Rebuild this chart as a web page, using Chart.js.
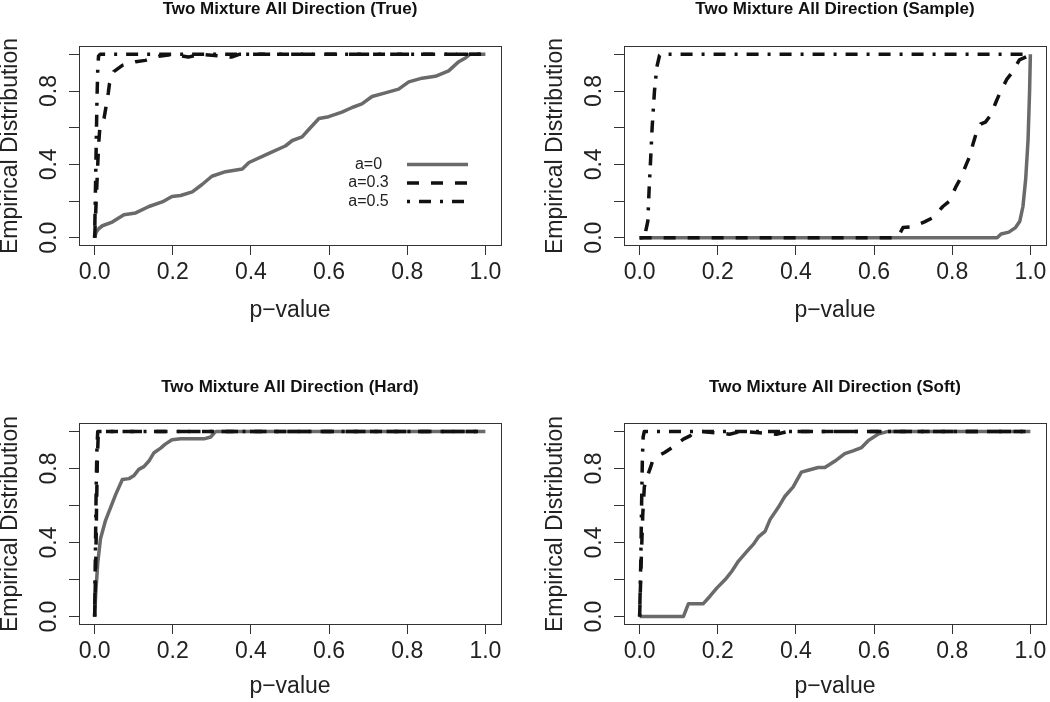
<!DOCTYPE html>
<html>
<head>
<meta charset="utf-8">
<script src="https://cdn.jsdelivr.net/npm/chart.js@4.4.0/dist/chart.umd.min.js"></script>
<style>
html,body{margin:0;padding:0;background:#fff;overflow:hidden;width:1050px;height:702px;position:relative}
canvas{position:absolute}
</style>
</head>
<body>
<canvas id="c1" width="545" height="340" style="left:-20px;top:0px"></canvas>
<canvas id="c2" width="545" height="340" style="left:525px;top:0px"></canvas>
<canvas id="c3" width="545" height="324" style="left:-20px;top:378px"></canvas>
<canvas id="c4" width="545" height="324" style="left:525px;top:378px"></canvas>
<script>
// ---------- axis ticks and labels ----------
const xTicks = [0, 0.2, 0.4, 0.6, 0.8, 1.0];
const xTickLabels = ['0.0', '0.2', '0.4', '0.6', '0.8', '1.0'];
const yTicks = [0, 0.2, 0.4, 0.6, 0.8, 1.0];
const yTickLabels = ['0.0', '', '0.4', '', '0.8', ''];
const seriesNames = ['a=0', 'a=0.3', 'a=0.5'];
const panelTitles = [
  'Two Mixture All Direction (True)',
  'Two Mixture All Direction (Sample)',
  'Two Mixture All Direction (Hard)',
  'Two Mixture All Direction (Soft)'
];
const xAxisTitle = 'p\u2212value';
const yAxisTitle = 'Empirical Distribution';

// ---------- Panel 1: True ----------
const trueA0P = [0, 0.004, 0.011, 0.02, 0.045, 0.075, 0.105, 0.139, 0.173, 0.198, 0.22, 0.25, 0.275, 0.30, 0.335, 0.378, 0.395, 0.446, 0.488, 0.506, 0.531, 0.548, 0.574, 0.599, 0.633, 0.659, 0.684, 0.71, 0.744, 0.778, 0.804, 0.838, 0.872, 0.906, 0.932, 0.949, 0.96, 1.0];
const trueA0E = [0, 0.03, 0.05, 0.065, 0.085, 0.125, 0.135, 0.17, 0.195, 0.225, 0.23, 0.25, 0.29, 0.335, 0.36, 0.375, 0.41, 0.46, 0.50, 0.53, 0.55, 0.59, 0.65, 0.66, 0.685, 0.71, 0.73, 0.77, 0.79, 0.81, 0.85, 0.87, 0.88, 0.91, 0.96, 0.98, 1.0, 1.0];
const trueA3P = [0, 0.003, 0.006, 0.009, 0.011, 0.013, 0.024, 0.028, 0.035, 0.038, 0.049, 0.071, 0.105, 0.13, 0.164, 0.2, 0.24, 0.27, 0.35, 0.37, 1.0];
const trueA3E = [0, 0.15, 0.3, 0.45, 0.53, 0.59, 0.65, 0.70, 0.79, 0.84, 0.906, 0.94, 0.96, 0.967, 0.99, 1.0, 0.985, 1.0, 0.985, 1.0, 1.0];
const trueA5P = [0, 0.002, 0.004, 0.006, 0.008, 0.010, 0.014, 1.0];
const trueA5E = [0, 0.25, 0.5, 0.75, 0.92, 0.99, 1.0, 1.0];

// ---------- Panel 2: Sample ----------
const sampA0P = [0, 0.915, 0.925, 0.945, 0.962, 0.973, 0.981, 0.988, 0.994, 0.998, 1.0];
const sampA0E = [0, 0, 0.02, 0.03, 0.055, 0.09, 0.17, 0.32, 0.53, 0.8, 1.0];
const sampA3P = [0, 0.66, 0.674, 0.70, 0.729, 0.751, 0.776, 0.793, 0.81, 0.823, 0.836, 0.846, 0.853, 0.863, 0.873, 0.885, 0.899, 0.912, 0.92, 0.94, 0.951, 0.972, 0.993, 1.0];
const sampA3E = [0, 0, 0.055, 0.06, 0.086, 0.11, 0.17, 0.20, 0.28, 0.33, 0.40, 0.45, 0.51, 0.58, 0.62, 0.63, 0.67, 0.74, 0.78, 0.865, 0.895, 0.97, 0.99, 1.0];
const sampA5P = [0, 0.014, 0.016, 0.021, 0.024, 0.028, 0.032, 0.038, 0.044, 0.051, 0.055, 1.0];
const sampA5E = [0, 0, 0.04, 0.09, 0.25, 0.42, 0.6, 0.8, 0.93, 0.995, 1.0, 1.0];

// ---------- Panel 3: Hard ----------
const hardA0P = [0, 0.003, 0.008, 0.015, 0.028, 0.041, 0.054, 0.071, 0.088, 0.10, 0.113, 0.126, 0.139, 0.152, 0.169, 0.18, 0.198, 0.22, 0.28, 0.297, 0.31, 1.0];
const hardA0E = [0, 0.13, 0.29, 0.42, 0.52, 0.59, 0.66, 0.74, 0.745, 0.76, 0.795, 0.81, 0.84, 0.885, 0.91, 0.93, 0.955, 0.96, 0.96, 0.97, 1.0, 1.0];
const hardA3P = [0, 0.003, 0.005, 0.007, 0.009, 0.012, 1.0];
const hardA3E = [0, 0.3, 0.6, 0.85, 0.97, 1.0, 1.0];
const hardA5P = [0, 0.002, 0.004, 0.006, 0.008, 1.0];
const hardA5E = [0, 0.35, 0.7, 0.92, 1.0, 1.0];

// ---------- Panel 4: Soft ----------
const softA0P = [0, 0.112, 0.125, 0.163, 0.18, 0.198, 0.219, 0.236, 0.253, 0.278, 0.291, 0.304, 0.321, 0.334, 0.355, 0.372, 0.393, 0.414, 0.431, 0.457, 0.474, 0.5, 0.525, 0.546, 0.568, 0.585, 0.61, 0.636, 1.0];
const softA0E = [0, 0, 0.07, 0.07, 0.11, 0.155, 0.2, 0.245, 0.30, 0.36, 0.39, 0.43, 0.46, 0.525, 0.59, 0.65, 0.70, 0.78, 0.79, 0.805, 0.805, 0.84, 0.88, 0.895, 0.913, 0.95, 0.985, 1.0, 1.0];
const softA3P = [0, 0.004, 0.008, 0.012, 0.02, 0.027, 0.033, 0.05, 0.064, 0.083, 0.10, 0.112, 0.129, 0.14, 0.16, 0.23, 0.26, 0.35, 0.38, 1.0];
const softA3E = [0, 0.3, 0.55, 0.7, 0.76, 0.80, 0.84, 0.87, 0.886, 0.913, 0.94, 0.958, 0.976, 0.995, 1.0, 0.985, 1.0, 0.985, 1.0, 1.0];
const softA5P = [0, 0.003, 0.005, 0.007, 0.009, 0.012, 1.0];
const softA5E = [0, 0.3, 0.6, 0.85, 0.97, 1.0, 1.0];

// ---------- styles ----------
const styleA0 = {color: '#6a6a6a', width: 3.5, dash: []};
const styleA3 = {color: '#111111', width: 3.5, dash: [12, 12]};
const styleA5 = {color: '#111111', width: 3.5, dash: [3, 9, 12, 9]};
const seriesStyles = [styleA0, styleA3, styleA5];

Chart.defaults.font.family = '"Liberation Sans", Arial, Helvetica, sans-serif';
Chart.defaults.color = '#222';

const rBox = {
  id: 'rBox',
  afterDatasetsDraw(chart) {
    const a = chart.chartArea, ctx = chart.ctx;
    const l = Math.round(a.left) + 0.5, r = Math.round(a.right) + 0.5;
    const t = Math.round(a.top) - 0.5, b = Math.round(a.bottom) + 0.5;
    ctx.save();
    ctx.strokeStyle = '#333';
    ctx.lineWidth = 1;
    ctx.strokeRect(l, t, r - l, b - t);
    ctx.restore();
  }
};

const legendPlace = {
  id: 'legendPlace',
  afterLayout(chart) {
    const lg = chart.legend;
    if (!lg || !lg.options.display) return;
    const a = chart.chartArea;
    const L = a.left + 259, w = 132.5, T = a.top + 107, h = 80;
    lg.left = L; lg.right = L + w; lg.width = w;
    lg.top = T; lg.bottom = T + h; lg.height = h;
  }
};

function toPts(px, py) { return px.map((x, i) => ({x: x, y: py[i]})); }

function makePanel(id, title, series, cfg) {
  const W = 545, H = cfg.H, T = cfg.T, B = cfg.B;
  const datasets = series.map((s, i) => ({
    label: seriesNames[i],
    data: toPts(s[0], s[1]),
    borderColor: seriesStyles[i].color,
    backgroundColor: seriesStyles[i].color,
    borderWidth: seriesStyles[i].width,
    borderDash: seriesStyles[i].dash,
    borderCapStyle: 'butt',
    borderJoinStyle: 'round',
    pointRadius: 0,
    tension: 0,
    fill: false,
    order: 3 - i
  }));
  const gridOpt = {display: true, drawOnChartArea: false, drawTicks: true, tickLength: 10, color: '#333', lineWidth: 1};
  return new Chart(document.getElementById(id), {
    type: 'line',
    data: {datasets: datasets},
    options: {
      responsive: false,
      animation: false,
      devicePixelRatio: 1,
      layout: {padding: {left: 0, right: W - 521, top: 0, bottom: 0}},
      plugins: {
        tooltip: {enabled: false},
        title: {display: false},
        legend: {
          display: cfg.legend,
          position: 'chartArea',
          align: 'start',
          rtl: true,
          textDirection: 'ltr',
          labels: {
            usePointStyle: true,
            pointStyle: 'line',
            pointStyleWidth: 61,
            boxHeight: 16,
            padding: 2.5,
            font: {size: 16},
            color: '#222',
            textAlign: 'center',
            generateLabels: (chart) => chart.data.datasets.map((ds, i) => ({
              text: ds.label,
              fillStyle: ds.borderColor,
              strokeStyle: ds.borderColor,
              lineWidth: ds.borderWidth,
              lineDash: ds.borderDash,
              lineCap: 'butt',
              pointStyle: 'line',
              fontColor: '#222',
              textAlign: 'center',
              hidden: false,
              datasetIndex: i
            }))
          }
        }
      },
      scales: {
        x: {
          type: 'linear', position: 'bottom', min: -0.04, max: 1.04,
          afterBuildTicks: (s) => { s.ticks = xTicks.map(v => ({value: v})); },
          afterFit: (s) => { s.height = H - B; },
          grid: gridOpt,
          border: {display: false},
          ticks: {font: {size: 23}, color: '#222', padding: 4, minRotation: 0, maxRotation: 0, autoSkip: false,
                  callback: (v, i) => xTickLabels[i]},
          title: {display: true, text: xAxisTitle, font: {size: 23}, color: '#222', padding: {top: 0, bottom: cfg.xTitlePad}}
        },
        xTop: {
          type: 'linear', axis: 'x', position: 'top', min: -0.04, max: 1.04,
          afterFit: (s) => { s.height = T; },
          grid: {display: false}, border: {display: false}, ticks: {display: false},
          title: {display: true, text: title, font: {size: 17, weight: 'bold', lineHeight: 0.8}, color: '#111', padding: {top: 3, bottom: 0}}
        },
        y: {
          type: 'linear', position: 'left', min: -0.04, max: 1.04,
          afterBuildTicks: (s) => { s.ticks = yTicks.map(v => ({value: v})); },
          afterFit: (s) => { s.width = 99; },
          grid: gridOpt,
          border: {display: false},
          ticks: {font: {size: 23}, color: '#222', padding: 3, minRotation: 90, maxRotation: 90, crossAlign: 'center', autoSkip: false,
                  callback: (v, i) => yTickLabels[i]},
          title: {display: true, text: yAxisTitle, font: {size: 23}, color: '#222', padding: {top: 17, bottom: 0}}
        }
      }
    },
    plugins: [rBox, legendPlace]
  });
}

const topRow = {H: 340, T: 47, B: 245, xTitlePad: 16, legend: false};
const botRow = {H: 324, T: 46, B: 246, xTitlePad: 2, legend: false};

makePanel('c1', panelTitles[0], [[trueA0P, trueA0E], [trueA3P, trueA3E], [trueA5P, trueA5E]], Object.assign({}, topRow, {legend: true}));
makePanel('c2', panelTitles[1], [[sampA0P, sampA0E], [sampA3P, sampA3E], [sampA5P, sampA5E]], topRow);
makePanel('c3', panelTitles[2], [[hardA0P, hardA0E], [hardA3P, hardA3E], [hardA5P, hardA5E]], botRow);
makePanel('c4', panelTitles[3], [[softA0P, softA0E], [softA3P, softA3E], [softA5P, softA5E]], botRow);
</script>
</body>
</html>
